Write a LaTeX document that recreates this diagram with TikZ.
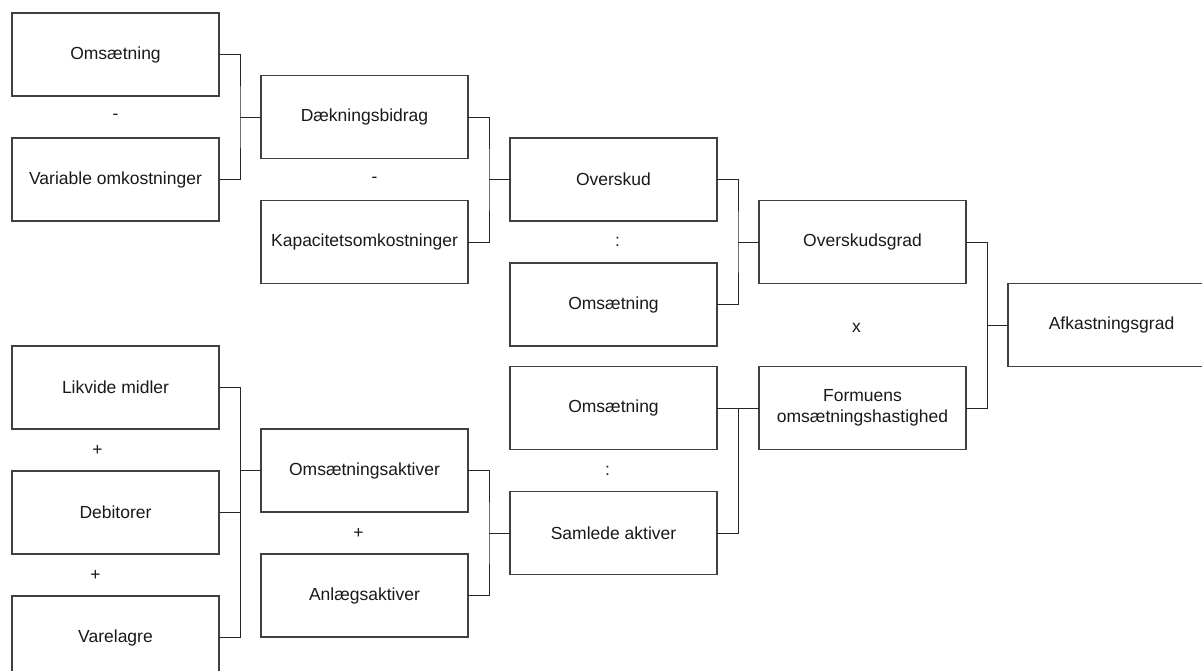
\documentclass[tikz,border=0pt]{standalone}
\usepackage{fontspec}
\setmainfont{Liberation Sans}
\usetikzlibrary{calc}
\usetikzlibrary{positioning}

\begin{document}
\begin{tikzpicture}[
				x=1pt, y=-1pt,
				node distance=42pt,
				block/.style={draw=black!75, line width=1.3pt, outer sep=0pt, minimum width=207pt, minimum height=83pt, align=center, text=black!90, font=\fontsize{17.5}{21}\selectfont},
				link/.style={draw=black!85, line width=1pt},
				op/.style={text=black!90, font=\fontsize{17.5}{21}\selectfont},
			]
				\clip (0,0) rectangle (1202,670);

				% first column
				\node[block] (omsaetning) at (115.5,54.5) {Omsætning};
				\node[block, below=of omsaetning] (variable) {Variable omkostninger};
				\node[block, below=125pt of variable] (likvide) {Likvide midler};
				\node[block, below=of likvide] (debitorer) {Debitorer};
				\node[block, below=of debitorer] (varelagre) {Varelagre};

				% second column
				\coordinate (j1) at ($(omsaetning.east)!0.5!(variable.east)+(21,0)$);
				\node[block, right=21pt of j1] (daekning) {Dækningsbidrag};
				\node[block, below=of daekning] (kapacitet) {Kapacitetsomkostninger};
				\node[block, below right=0pt and 42pt of likvide] (omsaktiver) {Omsætningsaktiver};
				\node[block, below=of omsaktiver] (anlaeg) {Anlægsaktiver};

				% third column
				\coordinate (j2) at ($(daekning.east)!0.5!(kapacitet.east)+(21,0)$);
				\node[block, right=21pt of j2] (overskud) {Overskud};
				\node[block, below=of overskud] (omsaetningA) {Omsætning};
				\coordinate (j3) at ($(omsaktiver.east)!0.5!(anlaeg.east)+(21,0)$);
				\node[block, right=21pt of j3] (samlede) {Samlede aktiver};
				\node[block, above=of samlede] (omsaetningB) {Omsætning};

				% fourth and fifth column
				\coordinate (j4) at ($(overskud.east)!0.5!(omsaetningA.east)+(21,0)$);
				\node[block, right=21pt of j4] (overskudsgrad) {Overskudsgrad};
				\node[block, right=of omsaetningB] (formue) {Formuens\\omsætningshastighed};
				\coordinate (j5) at ($(overskudsgrad.east)!0.5!(formue.east)+(21,0)$);
				\node[block, right=21pt of j5] (afkast) {Afkastningsgrad};

				\coordinate (bus) at ($(likvide.east)+(21,0)$);

				\draw[link] (omsaetning.east) -| (j1) |- (variable.east);
				\draw[link] (j1) -- (daekning.west);
				\draw[link] (daekning.east) -| (j2) |- (kapacitet.east);
				\draw[link] (j2) -- (overskud.west);
				\draw[link] (overskud.east) -| (j4) |- (omsaetningA.east);
				\draw[link] (j4) -- (overskudsgrad.west);
				\draw[link] (overskudsgrad.east) -| (j5) |- (formue.east);
				\draw[link] (j5) -- (afkast.west);

				\draw[link] (likvide.east) -| (bus) |- (varelagre.east);
				\draw[link] (debitorer.east) -- (debitorer.east -| bus);
				\draw[link] (omsaktiver.west) -- (omsaktiver.west -| bus);
				\draw[link] (omsaktiver.east) -| (j3) |- (anlaeg.east);
				\draw[link] (j3) -- (samlede.west);
				\draw[link] (omsaetningB.east) -- (formue.west);
				\draw[link] (samlede.east) -| ($(omsaetningB.east)!0.5!(formue.west)$);

				\path (omsaetning) -- (variable) node[midway, op] {-};
				\path (daekning) -- (kapacitet) node[midway, op, xshift=10pt] {-};
				\path (overskud) -- (omsaetningA) node[midway, op, xshift=4pt] {:};
				\path (overskudsgrad) -- (formue) node[midway, op, xshift=-6pt, yshift=-3pt] {x};
				\path (likvide) -- (debitorer) node[midway, op, xshift=-18pt] {+};
				\path (debitorer) -- (varelagre) node[midway, op, xshift=-20pt] {+};
				\path (omsaktiver) -- (anlaeg) node[midway, op, xshift=-6pt] {+};
				\path (omsaetningB) -- (samlede) node[midway, op, xshift=-6pt] {:};
			\end{tikzpicture}
\end{document}
